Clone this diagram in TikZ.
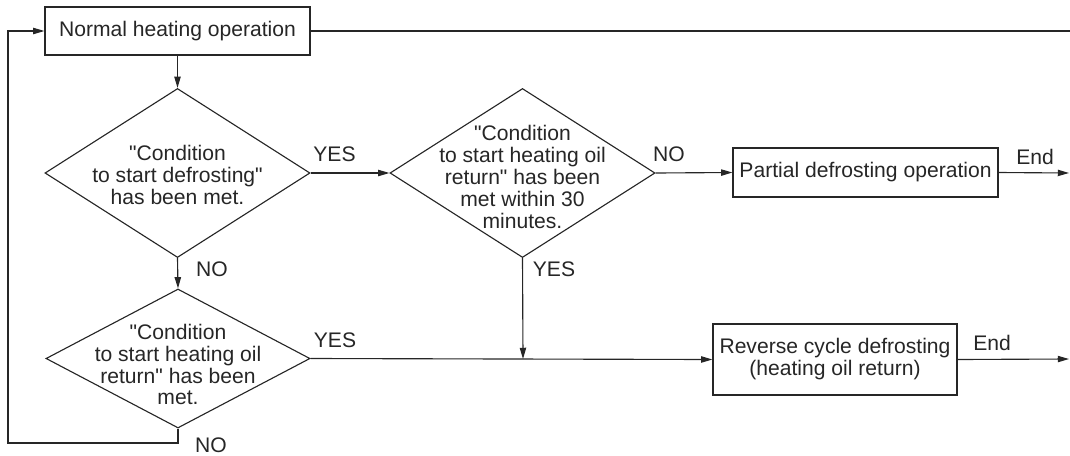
\documentclass[tikz,border=0pt]{standalone}
\usepackage{fontspec}
\setmainfont{Liberation Sans}[Ligatures=TeXOff]
\usetikzlibrary{shapes.geometric, arrows.meta, positioning}

\tikzset{
  box/.style={draw, rectangle, line width=0.8pt, align=center, inner sep=0pt},
  decision/.style={draw, diamond, line width=0.8pt, inner sep=0pt},
  txt/.style={align=center, inner sep=0pt},
  answer/.style={inner sep=0pt},
  flow/.style={line width=0.8pt, -{Triangle[length=8pt, width=4.5pt]}},
  plain/.style={line width=0.8pt}
}

\begin{document}
\begin{tikzpicture}[x=0.025cm, y=-0.025cm, font=\fontsize{15}{15.6}\selectfont, color=black!85]
  \useasboundingbox (0,0) rectangle (1070,455);

  \node[box, minimum width=6.625cm, minimum height=1.2cm] (normal) at (177.5,31) {Normal heating operation};
  \node[decision, minimum width=6.625cm, minimum height=4.225cm,
    label={[txt, yshift=-0.05cm]center:{"Condition\\to start defrosting"\\has been met.}}] (start) at (177.5,173) {};
  \node[decision, minimum width=6.625cm, minimum height=4.225cm,
    label={[txt, yshift=-0.1cm]center:{"Condition\\to start heating oil\\return" has been\\met within 30\\minutes.}}] (oil30) at (522.5,173) {};
  \node[box, minimum width=6.625cm, minimum height=1.225cm] (partial) at (865.5,172.5) {Partial defrosting operation};
  \node[decision, minimum width=6.6cm, minimum height=3.475cm,
    label={[txt, yshift=-0.15cm]center:{"Condition\\to start heating oil\\return" has been\\met.}}] (oil) at (178,358.5) {};
  \node[box, minimum width=6.1cm, minimum height=1.775cm] (reverse) at (835,359.5) {Reverse cycle defrosting\\(heating oil return)};

  \coordinate (topend) at (1070,31);
  \coordinate (end1) at (1069,173);
  \coordinate (end2) at (1069,359);
  \coordinate (join) at (523,359);
  \coordinate (loop) at (8,443);

  \draw[plain] (normal.east) -- (topend);
  \draw[flow] (normal.south) -- (start.north);
  \draw[flow] (start.east) -- (oil30.west);
  \draw[flow] (oil30.east) -- (partial.west);
  \draw[flow] (partial.east) -- (end1);
  \draw[flow] (start.south) -- (oil.north);
  \draw[flow] (oil.east) -- (reverse.west);
  \draw[flow] (oil30.south) -- (join);
  \draw[flow] (reverse.east) -- (end2);
  \draw[flow] (oil.south) |- (loop) |- (normal.west);

  \node[answer] (yes1) at (334.5,154.5) {YES};
  \node[answer] (no1) at (212,269) {NO};
  \node[answer] (no2) at (669,154.5) {NO};
  \node[answer] (yes2) at (554,269) {YES};
  \node[answer] (yes3) at (335,340.5) {YES};
  \node[answer] (no3) at (211,445) {NO};
  \node[answer] (endA) at (1035,156.5) {End};
  \node[answer] (endB) at (992,342.5) {End};
\end{tikzpicture}
\end{document}
